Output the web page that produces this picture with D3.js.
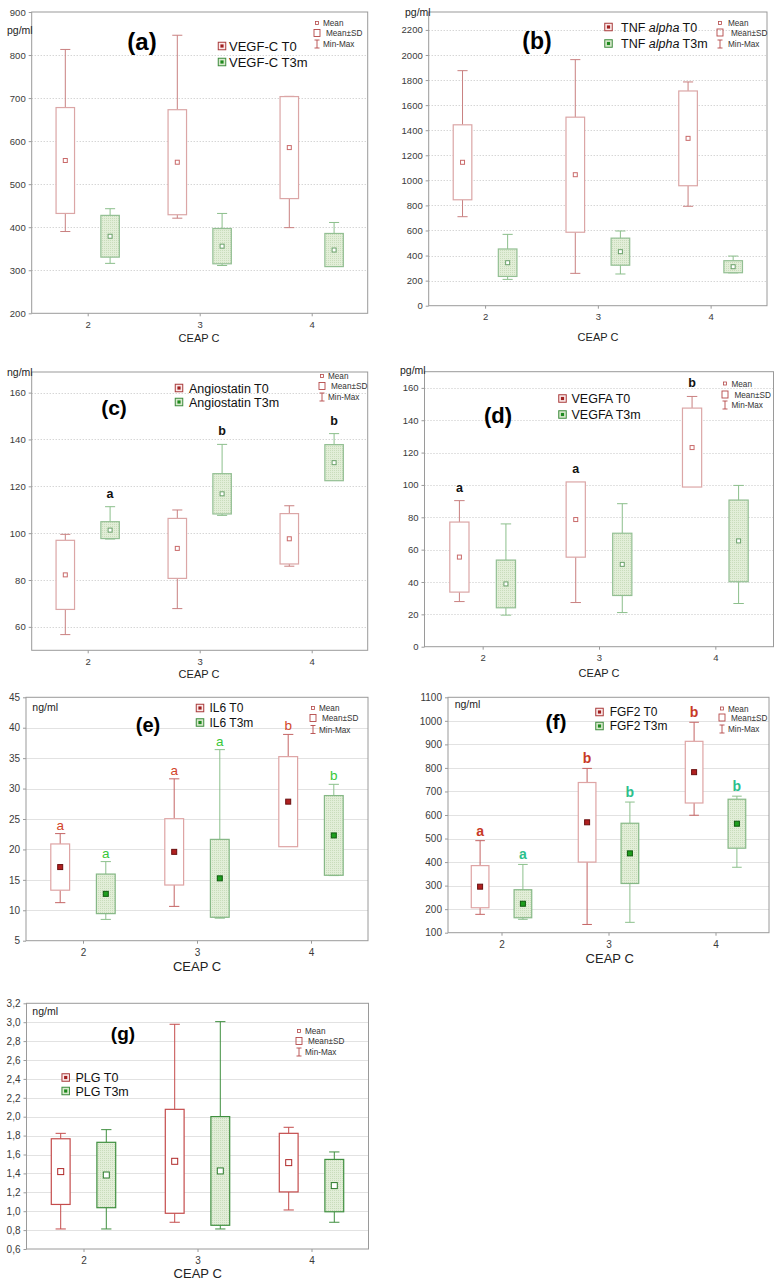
<!DOCTYPE html>
<html><head><meta charset="utf-8">
<script src="https://cdn.jsdelivr.net/npm/d3@7/dist/d3.min.js"></script>
<style>body{margin:0;background:#fff;} text{font-family:"Liberation Sans",Arial,sans-serif;}</style>
</head><body><svg id="c" width="778" height="1284"></svg>
<script>
// ---------- DATA ----------
const groups = [2, 3, 4];
const xAxisTitle = "CEAP C";

// (a) VEGF-C pg/ml
const vegfcT0  = { mean: [555, 551, 585], sd: [123, 122, 118.5], min: [390, 421, 399], max: [813, 846, 704] };
const vegfcT3m = { mean: [379, 356, 347], sd: [48.5, 41, 38.5], min: [316, 311, 309], max: [443, 432, 411] };
const vegfcTicks = [200, 300, 400, 500, 600, 700, 800, 900];

// (b) TNF alpha pg/ml
const tnfT0  = { mean: [1144, 1045, 1335], sd: [299, 459, 378], min: [710, 258, 793], max: [1875, 1963, 1785] };
const tnfT3m = { mean: [343, 431, 311], sd: [109.5, 108, 48], min: [210, 253, 262], max: [569, 596, 396] };
const tnfTicks = [0, 200, 400, 600, 800, 1000, 1200, 1400, 1600, 1800, 2000, 2200];

// (c) Angiostatin ng/ml
const angioT0  = { mean: [82.2, 93.5, 97.6], sd: [14.75, 12.8, 10.75], min: [56.7, 67.8, 85.9], max: [99.5, 109.9, 111.7] };
const angioT3m = { mean: [101.3, 116.8, 130.1], sd: [3.6, 8.6, 7.7], min: [97.5, 107.6, 122.5], max: [111.3, 137.9, 142.5] };
const angioTicks = [60, 80, 100, 120, 140, 160];
const angioLettersT3m = ["a", "b", "b"];

// (d) VEGFA pg/ml
const vegfaT0  = { mean: [55.4, 78.6, 123.1], sd: [21.65, 23.25, 24.4], min: [27.9, 27.3, 98.7], max: [90.3, 101.8, 154.7] };
const vegfaT3m = { mean: [38.8, 50.9, 65.4], sd: [14.75, 19.25, 25.25], min: [19.5, 21.1, 26.7], max: [75.9, 88.4, 99.7] };
const vegfaTicks = [0, 20, 40, 60, 80, 100, 120, 140, 160];
const vegfaLettersT0 = ["a", "a", "b"];

// (e) IL6 ng/ml
const il6T0  = { mean: [17.1, 19.6, 27.85], sd: [3.8, 5.45, 7.4], min: [11.25, 10.64, 20.45], max: [22.6, 31.6, 38.9] };
const il6T3m = { mean: [12.7, 15.25, 22.3], sd: [3.25, 6.4, 6.55], min: [8.5, 8.7, 15.7], max: [18.0, 36.4, 30.7] };
const il6Ticks = [5, 10, 15, 20, 25, 30, 35, 40, 45];
const il6LettersT0 = ["a", "a", "b"];
const il6LettersT3m = ["a", "a", "b"];

// (f) FGF2 ng/ml
const fgf2T0  = { mean: [295.5, 569, 782], sd: [89.5, 169, 131], min: [178, 135, 599], max: [491, 798, 994] };
const fgf2T3m = { mean: [223, 437, 563], sd: [59.5, 128, 104], min: [157, 144, 378], max: [390, 655, 680] };
const fgf2Ticks = [100, 200, 300, 400, 500, 600, 700, 800, 900, 1000, 1100];
const fgf2LettersT0 = ["a", "b", "b"];
const fgf2LettersT3m = ["a", "b", "b"];

// (g) PLG ng/ml
const plgT0  = { mean: [1.419, 1.528, 1.514], sd: [0.3475, 0.55, 0.31], min: [0.812, 0.883, 1.013], max: [1.824, 2.978, 1.888] };
const plgT3m = { mean: [1.383, 1.426, 1.271], sd: [0.346, 0.575, 0.277], min: [0.812, 0.812, 0.883], max: [1.863, 3.006, 1.627] };
const plgTicks = [0.6, 0.8, 1.0, 1.2, 1.4, 1.6, 1.8, 2.0, 2.2, 2.4, 2.6, 2.8, 3.0, 3.2];

const smallLegendLabels = ["Mean", "Mean±SD", "Min-Max"];

// ---------- LAYOUT / STYLE ----------
const light = { t0Box: "#dba6a6", t0Wh: "#c98080", t3Box: "#93bf93", t3Wh: "#8cbf8c", t0Mean: "#c96a6a", t3Mean: "#6aa06a", meanFill: "#fff", meanSize: 4, grid: "dotted" };
const mid   = { t0Box: "#dea4a4", t0Wh: "#c46464", t3Box: "#86b886", t3Wh: "#8cc08c", t0Mean: "#6a1010", t3Mean: "#0e5a0e", meanFillT0: "#b02020", meanFillT3: "#1e9e1e", meanSize: 5, grid: "solid" };
const dark  = { t0Box: "#c44c4c", t0Wh: "#c44c4c", t3Box: "#3f8f3f", t3Wh: "#3f8f3f", t0Mean: "#b02828", t3Mean: "#2a7a2a", meanFill: "#fff", meanSize: 6, grid: "solid" };

const panels = [
  { id: "(a)", fx0: 31.7, fx1: 367.7, fy0: 12, fy1: 313.3, domain: [200, 900], ticks: vegfcTicks, fmt: d => d,
    series: [vegfcT0, vegfcT3m], names: ["VEGF-C  T0", "VEGF-C  T3m"], st: light,
    unit: { t: "pg/ml", x: 7, y: 34, inside: false }, title: { x: 142, y: 50, s: 24 },
    leg: { x: 222, y: [46, 62], tx: 229, s: 13 }, sleg: { x: 317, y: [23, 33, 44], tx: 323 },
    xl: { x: 199, y: 342, s: 11 }, tickS: 9.5 },
  { id: "(b)", fx0: 428.7, fx1: 767, fy0: 12, fy1: 305.7, domain: [0, 2343], ticks: tnfTicks, fmt: d => d,
    series: [tnfT0, tnfT3m], names: ["TNF |alpha| T0", "TNF |alpha| T3m"], st: light,
    unit: { t: "pg/ml", x: 405, y: 16 }, title: { x: 537, y: 49, s: 23 },
    leg: { x: 608.5, y: [27, 43.5], tx: 621, s: 12.5 }, sleg: { x: 720, y: [23, 32.5, 44], tx: 728 },
    xl: { x: 598, y: 341, s: 11 }, tickS: 9.5 },
  { id: "(c)", fx0: 31.7, fx1: 367.7, fy0: 372, fy1: 650.3, domain: [50, 168.8], ticks: angioTicks, fmt: d => d,
    series: [angioT0, angioT3m], names: ["Angiostatin T0", "Angiostatin T3m"], st: light,
    letters: [null, angioLettersT3m], letterColor: ["#111", "#111"], letterOff: 9, letterS: 12.5, letterW: "bold",
    unit: { t: "ng/ml", x: 7, y: 375.5 }, title: { x: 114, y: 415, s: 21 },
    leg: { x: 179, y: [388, 402], tx: 189, s: 12.5 }, sleg: { x: 322, y: [376, 386, 397], tx: 328 },
    xl: { x: 199, y: 678, s: 11 }, tickS: 9.5 },
  { id: "(d)", fx0: 424.5, fx1: 773.5, fy0: 371.7, fy1: 646.7, domain: [0, 170], ticks: vegfaTicks, fmt: d => d,
    series: [vegfaT0, vegfaT3m], names: ["VEGFA T0", "VEGFA T3m"], st: light,
    letters: [vegfaLettersT0, null], letterColor: ["#111", "#111"], letterOff: 9, letterS: 12.5, letterW: "bold",
    unit: { t: "pg/ml", x: 400, y: 373.5 }, title: { x: 498, y: 423, s: 22 },
    leg: { x: 562.5, y: [398.5, 414.5], tx: 571.5, s: 12.5 }, sleg: { x: 725, y: [383.5, 394.5, 405], tx: 731.5 },
    xl: { x: 599, y: 677, s: 11 }, tickS: 9.5 },
  { id: "(e)", fx0: 26, fx1: 368, fy0: 697.3, fy1: 940.7, domain: [5, 45], ticks: il6Ticks, fmt: d => d,
    series: [il6T0, il6T3m], names: ["IL6 T0", "IL6 T3m"], st: mid,
    letters: [il6LettersT0, il6LettersT3m], letterColor: ["#d2452a", "#38c838"], letterOff: 4, letterS: 13.5, letterW: "normal",
    unit: { t: "ng/ml", x: 32.3, y: 711 }, title: { x: 148, y: 732, s: 20 },
    leg: { x: 200, y: [708, 722.5], tx: 209.5, s: 12 }, sleg: { x: 313, y: [708, 718, 729.5], tx: 319 },
    xl: { x: 197, y: 971, s: 13 }, tickS: 10 },
  { id: "(f)", fx0: 448, fx1: 769, fy0: 697.3, fy1: 932.7, domain: [100, 1100], ticks: fgf2Ticks, fmt: d => d,
    series: [fgf2T0, fgf2T3m], names: ["FGF2 T0", "FGF2 T3m"], st: mid,
    letters: [fgf2LettersT0, fgf2LettersT3m], letterColor: ["#c83a26", "#2cc08c"], letterOff: 5, letterS: 14, letterW: "bold",
    unit: { t: "ng/ml", x: 454.7, y: 708 }, title: { x: 556, y: 729, s: 21 },
    leg: { x: 599.5, y: [712, 726], tx: 609.7, s: 12 }, sleg: { x: 722, y: [708.5, 717.5, 729], tx: 728 },
    xl: { x: 609.7, y: 963, s: 13 }, tickS: 10 },
  { id: "(g)", fx0: 26.5, fx1: 368.5, fy0: 1003.3, fy1: 1249, domain: [0.6, 3.2], ticks: plgTicks, fmt: d => d.toFixed(1).replace(".", ","),
    series: [plgT0, plgT3m], names: ["PLG T0", "PLG T3m"], st: dark,
    unit: { t: "ng/ml", x: 32.3, y: 1014.5 }, title: { x: 123, y: 1040, s: 19 },
    leg: { x: 65.7, y: [1077.5, 1091], tx: 75.5, s: 12.5 }, sleg: { x: 299, y: [1031, 1041, 1052], tx: 305 },
    xl: { x: 197.7, y: 1278, s: 13 }, tickS: 10 }
];

// ---------- DRAW ----------
const svg = d3.select("#c");
const defs = svg.append("defs");
const pat = defs.append("pattern").attr("id", "dots").attr("width", 2).attr("height", 2).attr("patternUnits", "userSpaceOnUse");
pat.append("rect").attr("width", 2).attr("height", 2).attr("fill", "#e2eed8");
pat.append("rect").attr("width", 1).attr("height", 1).attr("fill", "#c9dcbb");

function drawPanel(p) {
  const g = svg.append("g");
  const x = d3.scaleLinear().domain([1.5, 4.5]).range([p.fx0, p.fx1]);
  const y = d3.scaleLinear().domain(p.domain).range([p.fy1, p.fy0]);
  const st = p.st;

  // grid
  g.selectAll(null).data(p.ticks.filter(t => t > p.domain[0] + 1e-9 && t < p.domain[1] - 1e-9)).join("line")
    .attr("x1", p.fx0).attr("x2", p.fx1).attr("y1", d => Math.round(y(d)) + 0.5).attr("y2", d => Math.round(y(d)) + 0.5)
    .attr("stroke", st.grid === "dotted" ? "#c4c4c4" : "#e2e2e2").attr("stroke-width", 1)
    .attr("stroke-dasharray", st.grid === "dotted" ? "1,2" : null);

  // axes
  const ya = g.append("g").attr("transform", `translate(${p.fx0},0)`)
    .call(d3.axisLeft(y).tickValues(p.ticks).tickSize(3).tickPadding(3).tickFormat(p.fmt));
  const xa = g.append("g").attr("transform", `translate(0,${p.fy1})`)
    .call(d3.axisBottom(x).tickValues(groups).tickSize(3).tickPadding(5).tickFormat(d => d));
  [ya, xa].forEach(a => {
    a.select(".domain").remove();
    a.selectAll("line").attr("stroke", "#9a9a9a");
    a.selectAll("text").attr("font-size", p.tickS).attr("fill", "#3a3a3a").attr("font-family", "Liberation Sans, Arial, sans-serif");
  });

  // frame
  g.append("rect").attr("x", p.fx0).attr("y", p.fy0).attr("width", p.fx1 - p.fx0).attr("height", p.fy1 - p.fy0)
    .attr("fill", "none").attr("stroke", "#9a9a9a").attr("stroke-width", 1);

  // series
  const unit = x(3) - x(2);
  const bw = unit * 0.165, cw = unit * 0.09;
  p.series.forEach((s, si) => {
    const off = si === 0 ? -0.2 : 0.2;
    const boxC = si === 0 ? st.t0Box : st.t3Box;
    const whC = si === 0 ? st.t0Wh : st.t3Wh;
    groups.forEach((gv, i) => {
      const cx = x(gv + off);
      const lo = s.mean[i] - s.sd[i], hi = s.mean[i] + s.sd[i];
      if (s.max[i] > hi + 1e-9) {
        g.append("line").attr("x1", cx).attr("x2", cx).attr("y1", y(hi)).attr("y2", y(s.max[i])).attr("stroke", whC);
        g.append("line").attr("x1", cx - cw / 2).attr("x2", cx + cw / 2).attr("y1", y(s.max[i])).attr("y2", y(s.max[i])).attr("stroke", whC);
      }
      if (s.min[i] < lo - 1e-9) {
        g.append("line").attr("x1", cx).attr("x2", cx).attr("y1", y(lo)).attr("y2", y(s.min[i])).attr("stroke", whC);
        g.append("line").attr("x1", cx - cw / 2).attr("x2", cx + cw / 2).attr("y1", y(s.min[i])).attr("y2", y(s.min[i])).attr("stroke", whC);
      }
      g.append("rect").attr("x", cx - bw / 2).attr("y", y(hi)).attr("width", bw).attr("height", y(lo) - y(hi))
        .attr("fill", si === 0 ? "#fff" : "url(#dots)").attr("stroke", boxC).attr("stroke-width", 1.2);
      const ms = st.meanSize;
      const mFill = si === 0 ? (st.meanFillT0 || st.meanFill) : (st.meanFillT3 || st.meanFill);
      g.append("rect").attr("x", cx - ms / 2).attr("y", y(s.mean[i]) - ms / 2).attr("width", ms).attr("height", ms)
        .attr("fill", mFill).attr("stroke", si === 0 ? st.t0Mean : st.t3Mean).attr("stroke-width", 1);
      if (p.letters && p.letters[si]) {
        g.append("text").attr("x", cx).attr("y", y(s.max[i]) - p.letterOff).attr("text-anchor", "middle")
          .attr("font-size", p.letterS).attr("font-weight", p.letterW).attr("fill", p.letterColor[si]).text(p.letters[si][i]);
      }
    });
  });

  // unit label
  g.append("text").attr("x", p.unit.x).attr("y", p.unit.y).attr("font-size", 10.5).attr("fill", "#222").text(p.unit.t);
  // title
  g.append("text").attr("x", p.title.x).attr("y", p.title.y).attr("text-anchor", "middle").attr("font-size", p.title.s)
    .attr("font-weight", "bold").attr("fill", "#000").text(p.id);
  // legend
  p.names.forEach((n, k) => {
    const ly = p.leg.y[k];
    const sz = 7.5;
    g.append("rect").attr("x", p.leg.x - sz / 2).attr("y", ly - sz / 2).attr("width", sz).attr("height", sz)
      .attr("fill", k === 0 ? "#fbeaea" : "#d9e9cd").attr("stroke", k === 0 ? "#a83a3a" : "#3d8b3d").attr("stroke-width", 1);
    g.append("rect").attr("x", p.leg.x - 1.6).attr("y", ly - 1.6).attr("width", 3.2).attr("height", 3.2)
      .attr("fill", k === 0 ? "#a02020" : "#1e8a1e");
    const t = g.append("text").attr("x", p.leg.tx).attr("y", ly + p.leg.s * 0.36).attr("font-size", p.leg.s).attr("fill", "#111");
    n.split("|").forEach((part, j) => {
      t.append("tspan").attr("font-style", j === 1 ? "italic" : "normal").text(part);
    });
  });
  // small legend
  const sc = "#b44848";
  const sx = p.sleg.x;
  smallLegendLabels.forEach((lab, k) => {
    const ly = p.sleg.y[k];
    if (k === 0) {
      g.append("rect").attr("x", sx - 1.5).attr("y", ly - 1.5).attr("width", 3).attr("height", 3).attr("fill", "none").attr("stroke", sc).attr("stroke-width", 0.8);
    } else if (k === 1) {
      g.append("rect").attr("x", sx - 3).attr("y", ly - 3.5).attr("width", 6).attr("height", 7).attr("fill", "none").attr("stroke", sc).attr("stroke-width", 0.9);
    } else {
      g.append("path").attr("d", `M${sx - 2.5},${ly - 4}H${sx + 2.5}M${sx},${ly - 4}V${ly + 4}M${sx - 2.5},${ly + 4}H${sx + 2.5}`)
        .attr("stroke", sc).attr("stroke-width", 0.9).attr("fill", "none");
    }
    g.append("text").attr("x", p.sleg.tx + (k === 1 ? 3 : 0)).attr("y", ly + 3).attr("font-size", 8.2).attr("fill", "#333").text(lab);
  });
  // x axis title
  g.append("text").attr("x", p.xl.x).attr("y", p.xl.y).attr("text-anchor", "middle").attr("font-size", p.xl.s).attr("fill", "#222").text(xAxisTitle);
}

panels.forEach(drawPanel);
</script>
</body></html>
